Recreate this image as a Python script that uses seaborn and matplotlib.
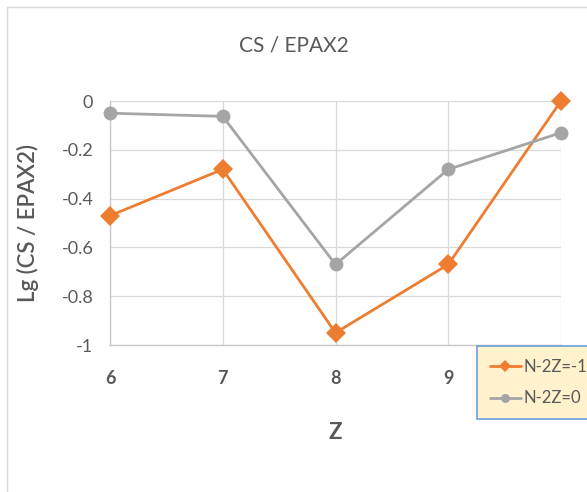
import matplotlib
matplotlib.use("Agg")
import matplotlib.pyplot as plt
import seaborn as sns
import pandas as pd
from matplotlib.patches import Rectangle

# Data
z_values = [6, 7, 8, 9, 10]
series_a_name = "N-2Z=-1"
series_a = [-0.47, -0.28, -0.95, -0.67, 0.0]
series_b_name = "N-2Z=0"
series_b = [-0.05, -0.063, -0.67, -0.28, -0.13]
y_ticks = [0, -0.2, -0.4, -0.6, -0.8, -1]
y_tick_labels = ["0", "-0.2", "-0.4", "-0.6", "-0.8", "-1"]

df = pd.DataFrame({
    "Z": z_values * 2,
    "val": series_a + series_b,
    "series": [series_a_name] * len(z_values) + [series_b_name] * len(z_values),
})

sns.set_theme(style="white")
plt.rcParams["font.family"] = ["Lato", "DejaVu Sans"]

W, H = 587, 492
fig = plt.figure(figsize=(W / 100, H / 100), dpi=100)
ax = fig.add_axes([110 / W, 1 - 345 / H, (561 - 110) / W, (345 - 101) / H])

palette = {series_a_name: "#ed7d31", series_b_name: "#a5a5a5"}
markers = {series_a_name: "D", series_b_name: "o"}
sns.lineplot(data=df, x="Z", y="val", hue="series", style="series",
             palette=palette, markers=markers, dashes=False,
             hue_order=[series_a_name, series_b_name],
             style_order=[series_a_name, series_b_name],
             linewidth=2.0, markersize=10, markeredgewidth=0, ax=ax,
             zorder=3, clip_on=False)

ax.set_xlim(6, 10)
ax.set_ylim(-1, 0)
ax.set_xticks(z_values)
ax.set_xticklabels([str(v) for v in z_values], fontsize=13, fontweight="bold",
                   color="#595959")
ax.set_yticks(y_ticks)
ax.set_yticklabels(y_tick_labels, fontsize=13, color="#595959")
ax.tick_params(axis="x", length=0, pad=18)
ax.tick_params(axis="y", length=0, pad=12)
ax.grid(True, color="#d9d9d9", linewidth=0.9)
ax.set_axisbelow(True)
for side in ["top", "right"]:
    ax.spines[side].set_visible(False)
for side in ["left", "bottom"]:
    ax.spines[side].set_color("#c8c8c8")
    ax.spines[side].set_linewidth(1.0)

ax.set_xlabel("Z", fontsize=16, fontweight="bold", color="#595959", labelpad=25)
ax.set_ylabel("Lg (CS / EPAX2)", fontsize=16, fontweight="semibold",
              color="#595959", labelpad=16)
fig.text(294 / W, 1 - 45 / H, "CS / EPAX2", ha="center", va="center",
         fontsize=15, color="#595959")

ax.get_legend().remove()
handles, labels = ax.get_legend_handles_labels()
leg = fig.legend(handles, labels, loc="upper left",
                 bbox_to_anchor=(477 / W, 1 - 346 / H),
                 fontsize=12, frameon=True, fancybox=False, framealpha=1,
                 facecolor="#fff2cc", edgecolor="#6f9fd8",
                 handlelength=1.9, handletextpad=0.15, borderpad=0.75,
                 labelspacing=0.95, borderaxespad=0, markerscale=0.65)
for t in leg.get_texts():
    t.set_color("#595959")
leg.get_frame().set_linewidth(1.2)

fig.patches.append(Rectangle((7 / W, -0.1), 1.2, 1 - 7 / H + 0.1,
                             transform=fig.transFigure, fill=False,
                             edgecolor="#d9d9d9", linewidth=1.0, zorder=0))

fig.savefig("out.png", dpi=100)
